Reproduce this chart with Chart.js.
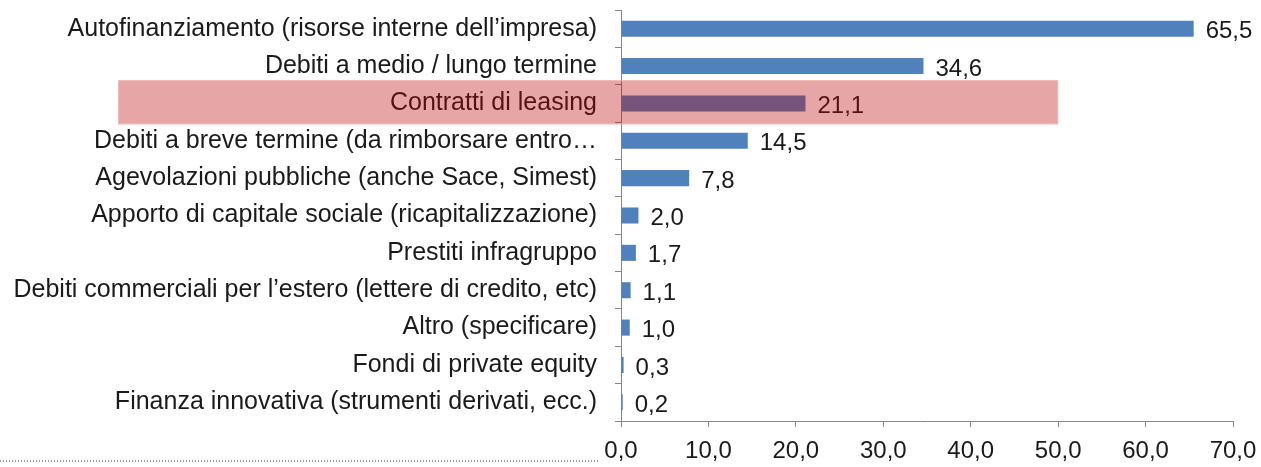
<!DOCTYPE html>
<html>
<head>
<meta charset="utf-8">
<script src="https://cdn.jsdelivr.net/npm/chart.js@4"></script>
<style>
  html, body { margin: 0; padding: 0; background: #fff; }
  #wrap { width: 1261px; height: 467px; position: relative; }
</style>
</head>
<body>
<div id="wrap"><canvas id="chart"></canvas></div>
<script>
const categories = [
  "Autofinanziamento (risorse interne dell\u2019impresa)",
  "Debiti a medio / lungo termine",
  "Contratti di leasing",
  "Debiti a breve termine (da rimborsare entro\u2026",
  "Agevolazioni pubbliche (anche Sace, Simest)",
  "Apporto di capitale sociale (ricapitalizzazione)",
  "Prestiti infragruppo",
  "Debiti commerciali per l\u2019estero (lettere di credito, etc)",
  "Altro (specificare)",
  "Fondi di private equity",
  "Finanza innovativa (strumenti derivati, ecc.)"
]
const values = [65.5, 34.6, 21.1, 14.5, 7.8, 2.0, 1.7, 1.1, 1.0, 0.3, 0.2]
const highlighted = "Contratti di leasing"
const xTicks = [0, 10, 20, 30, 40, 50, 60, 70]

const FONT = "'Liberation Sans', Arial, sans-serif"
const fmt = (v) => v.toFixed(1).replace(".", ",")

const valueLabels = {
  id: "valueLabels",
  afterDatasetsDraw(chart) {
    const ctx = chart.ctx
    const meta = chart.getDatasetMeta(0)
    ctx.save()
    ctx.font = "24px " + FONT
    ctx.fillStyle = "#1a1a1a"
    ctx.textBaseline = "middle"
    ctx.textAlign = "left"
    meta.data.forEach((bar, i) => {
      ctx.fillText(fmt(values[i]), bar.x + 12, bar.y + 3)
    })
    ctx.restore()
  }
}

const overlay = {
  id: "overlay",
  afterDraw(chart) {
    const ctx = chart.ctx
    const y = chart.scales.y
    const x = chart.scales.x
    const idx = categories.indexOf(highlighted)
    const band = y.getPixelForValue(1) - y.getPixelForValue(0)
    const cy = y.getPixelForValue(idx)
    const top = cy - band * 0.62
    const bottom = cy + band * 0.56
    const left = 118
    const right = x.getPixelForValue(50)
    ctx.save()
    ctx.fillStyle = "rgba(191, 6, 6, 0.36)"
    ctx.fillRect(left, top, right - left, bottom - top)
    ctx.strokeStyle = "rgba(240, 190, 190, 0.8)"
    ctx.lineWidth = 1
    ctx.strokeRect(left + 0.5, top + 0.5, right - left - 1, bottom - top - 1)

    // dotted leader on the bottom left
    const ly = chart.height - 6
    ctx.strokeStyle = "#333"
    ctx.setLineDash([1, 2])
    ctx.beginPath()
    ctx.moveTo(0, ly)
    ctx.lineTo(x.left - 22, ly)
    ctx.stroke()
    ctx.restore()
  }
}

const ctx = document.getElementById("chart")

new Chart(ctx, {
  type: "bar",
  data: {
    labels: categories,
    datasets: [{
      data: values,
      backgroundColor: "#4F81BD",
      borderWidth: 0,
      categoryPercentage: 1,
      barPercentage: 0.43
    }]
  },
  options: {
    indexAxis: "y",
    responsive: true,
    maintainAspectRatio: false,
    animation: false,
    layout: { padding: { top: 10, right: 28, left: 0, bottom: 0 } },
    plugins: {
      legend: { display: false },
      tooltip: { enabled: false }
    },
    scales: {
      x: {
        min: 0,
        max: 70,
        afterBuildTicks: (scale) => { scale.ticks = xTicks.map(v => ({ value: v })) },
        afterFit: (scale) => {
          scale.height = 46
          scale.paddingLeft = 0
          scale.paddingRight = 0
        },
        border: { display: true, color: "#868686", width: 1 },
        grid: { drawOnChartArea: false, drawTicks: true, tickLength: 6, color: "#868686" },
        ticks: {
          color: "#1a1a1a",
          font: { family: FONT, size: 24 },
          padding: 10,
          maxRotation: 0,
          callback: (v) => fmt(v)
        }
      },
      y: {
        afterFit: (scale) => {
          scale.width = 621
          scale.paddingTop = 0
          scale.paddingBottom = 0
        },
        border: { display: true, color: "#868686", width: 1 },
        grid: { drawOnChartArea: false, drawTicks: true, tickLength: 6, color: "#868686", offset: true },
        ticks: {
          color: "#1a1a1a",
          font: { family: FONT, size: 25 },
          padding: 18,
          autoSkip: false
        }
      }
    }
  },
  plugins: [valueLabels, overlay]
})
</script>
</body>
</html>
